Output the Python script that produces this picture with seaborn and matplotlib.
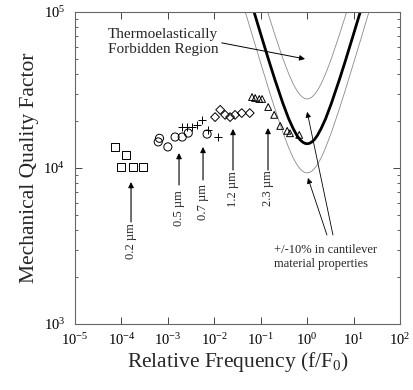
import numpy as np
import pandas as pd
import matplotlib
matplotlib.use("Agg")
import matplotlib.pyplot as plt
import seaborn as sns

# ---------------- data ----------------
sq_f = [7.2e-5, 1.26e-4, 9.8e-5, 1.78e-4, 2.9e-4]
sq_q = [13650, 12100, 10100, 10100, 10100]

ci_f = [6.2e-4, 6.6e-4, 1.0e-3, 1.43e-3, 2.04e-3, 2.75e-3, 7.0e-3]
ci_q = [14700, 15500, 13650, 15800, 15800, 16750, 16500]

pl_f = [2.02e-3, 2.6e-3, 3.3e-3, 4.26e-3, 5.46e-3, 7.35e-3, 1.21e-2]
pl_q = [18300, 18300, 18300, 18900, 20300, 17500, 15800]

di_f = [1.04e-2, 1.34e-2, 1.71e-2, 2.19e-2, 2.8e-2, 3.9e-2, 5.8e-2]
di_q = [21200, 23600, 21900, 21200, 21900, 22500, 22500]

tr_f = [0.065, 0.076, 0.093, 0.107, 0.145, 0.195, 0.263, 0.372, 0.427, 0.676]
tr_q = [28500, 28100, 27700, 27700, 24600, 21900, 18600, 17300, 16700, 16300]

# thermoelastic limit curves
bold_f = [0.07, 0.1, 0.15, 0.2, 0.3, 0.4, 0.5, 0.6, 0.7, 0.8, 0.9, 1.0,
          1.11, 1.25, 1.43, 1.67, 2.0, 2.5, 3.33, 5.0, 6.67, 10.0, 14.3]
bold_q = [102700, 72200, 48700, 37200, 26000, 20700, 17900, 16200, 15200, 14660, 14380, 14300,
          14380, 14660, 15200, 16200, 17900, 20700, 26000, 37200, 48700, 72200, 102700]

up_f = [0.14, 0.15, 0.2, 0.3, 0.4, 0.5, 0.6, 0.7, 0.8, 0.9, 1.0,
        1.11, 1.25, 1.43, 1.67, 2.0, 2.5, 3.33, 5.0, 6.67, 7.14]
up_q = [100800, 94400, 72000, 50300, 40200, 34600, 31400, 29500, 28400, 27850, 27700,
        27850, 28400, 29500, 31400, 34600, 40200, 50300, 72000, 94400, 100800]

lo_f = [0.045, 0.07, 0.1, 0.15, 0.2, 0.3, 0.4, 0.5, 0.6, 0.7, 0.8, 0.9, 1.0,
        1.11, 1.25, 1.43, 1.67, 2.0, 2.5, 3.33, 5.0, 6.67, 10.0, 14.3, 22.2]
lo_q = [103500, 66800, 47000, 31700, 24200, 16900, 13500, 11600, 10540, 9900, 9530, 9350, 9300,
        9350, 9530, 9900, 10540, 11600, 13500, 16900, 24200, 31700, 47000, 66800, 103500]

xticks = [1e-5, 1e-4, 1e-3, 1e-2, 1e-1, 1e0, 1e1, 1e2]
yticks = [1e3, 1e4, 1e5]

# ---------------- style ----------------
sns.set_style("ticks")
plt.rcParams["font.family"] = ["Liberation Serif", "DejaVu Serif"]
plt.rcParams["mathtext.fontset"] = "custom"
plt.rcParams["mathtext.rm"] = "Liberation Serif"
plt.rcParams["mathtext.it"] = "Liberation Serif:italic"

fig = plt.figure(figsize=(4.14, 3.90), dpi=100)
ax = fig.add_axes([75 / 414, 1 - 324 / 390, 325 / 414, 312 / 390])

def scat(f, q, marker, s, filled=False):
    df = pd.DataFrame({"f": f, "q": q})
    if filled:
        sns.scatterplot(data=df, x="f", y="q", ax=ax, marker=marker, s=s,
                        color="black", linewidth=0.7, zorder=3)
    else:
        sns.scatterplot(data=df, x="f", y="q", ax=ax, marker=marker, s=s,
                        facecolor="none", edgecolor="black", linewidth=0.7, zorder=3)

scat(sq_f, sq_q, "s", 32)
scat(ci_f, ci_q, "o", 34)
scat(pl_f, pl_q, "+", 34, filled=True)
scat(di_f, di_q, "D", 20)
scat(tr_f, tr_q, "^", 24)

def curve(f, q, lw, color, ls="-"):
    df = pd.DataFrame({"f": f, "q": q})
    sns.lineplot(data=df, x="f", y="q", ax=ax, sort=False, estimator=None,
                 color=color, lw=lw, ls=ls, zorder=2)

curve(up_f, up_q, 0.6, "#8a8a8a")
curve(lo_f, lo_q, 0.6, "#8a8a8a")
curve(bold_f, bold_q, 2.0, "black")

ax.set_xscale("log")
ax.set_yscale("log")
ax.set_xlim(1e-5, 1e2)
ax.set_ylim(1e3, 1e5)
ax.set_xticks(xticks)
ax.set_yticks(yticks)
ax.tick_params(which="both", direction="in", top=True, right=True, colors="#444444",
               labelcolor="black", labelsize=10.5)
ax.tick_params(which="major", length=5, width=0.7)
ax.tick_params(which="minor", length=2.5, width=0.6)
ax.tick_params(axis="y", which="major", pad=7)
ax.tick_params(axis="x", which="major", pad=6)
for sp in ax.spines.values():
    sp.set_color("#666666")
    sp.set_linewidth(0.8)

ax.set_xlabel(r"Relative Frequency (f/F$_0$)", fontsize=15.5, labelpad=1)
ax.set_ylabel("Mechanical Quality Factor", fontsize=15.5, labelpad=3)

# annotations
ax.annotate("Thermoelastically\nForbidden Region", xy=(0.9, 50000), xytext=(5.1e-5, 64000),
            fontsize=11, ha="left", va="center", linespacing=1.15,
            arrowprops=dict(arrowstyle="-|>", color="black", lw=0.7, mutation_scale=8,
                            shrinkA=0, shrinkB=0, relpos=(1.0, 0.5)))

ax.text(0.193, 2690, "+/-10% in cantilever\nmaterial properties", fontsize=9,
        ha="left", va="center", linespacing=1.2)
ax.annotate("", xy=(1.0, 22900), xytext=(3.6, 3720),
            arrowprops=dict(arrowstyle="-|>", color="black", lw=0.6, mutation_scale=8,
                            shrinkA=0, shrinkB=0))
ax.annotate("", xy=(1.04, 8630), xytext=(2.67, 3720),
            arrowprops=dict(arrowstyle="-|>", color="black", lw=0.6, mutation_scale=8,
                            shrinkA=0, shrinkB=0))

labels = ["0.2 µm", "0.5 µm", "0.7 µm", "1.2 µm", "2.3 µm"]
lab_x = [1.61e-4, 1.74e-3, 5.72e-3, 0.0253, 0.1435]
tip_y = [8130, 12470, 13650, 17800, 18050]
tail_y = [4510, 7780, 8380, 9700, 9700]
text_y = [3400, 5550, 6060, 7330, 7450]
for lab, x, ty, tl, tt in zip(labels, lab_x, tip_y, tail_y, text_y):
    ax.annotate("", xy=(x, ty), xytext=(x, tl),
                arrowprops=dict(arrowstyle="-|>", color="black", lw=0.8, mutation_scale=8,
                                shrinkA=0, shrinkB=0))
    ax.text(x, tt, lab, rotation=90, fontsize=9, ha="center", va="center")

fig.savefig("out.png", dpi=100)
